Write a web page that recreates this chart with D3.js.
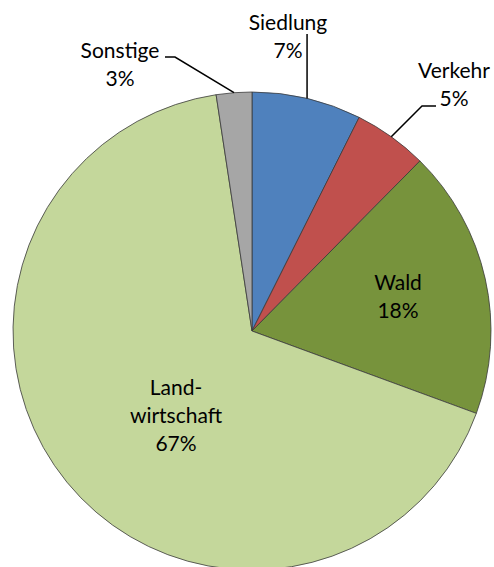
<!DOCTYPE html>
<html>
<head>
<meta charset="utf-8">
<script src="https://cdn.jsdelivr.net/npm/d3@7"></script>
<style>
  body { margin: 0; background: #fff; }
  text { font-family: Lato, "Open Sans", sans-serif; font-size: 21px; fill: #000; }
</style>
</head>
<body>
<div id="chart"></div>
<script>
// Flächennutzung, Anteile in Prozent (clockwise from 12 o'clock)
var categories = ["Siedlung", "Verkehr", "Wald", "Land-|wirtschaft", "Sonstige"];
var values = [7.4, 5.0, 18.2, 67.0, 2.4];
var percentLabels = ["7%", "5%", "18%", "67%", "3%"];
var colors = ["#4f81bd", "#c0504d", "#77933c", "#c4d79b", "#a6a6a6"];

var width = 494, height = 567;
var cx = 252, cy = 331, radius = 239;
var lineHeight = 28;

// label placement relative to pie centre (x = centre of text, y = first baseline)
var labelLayout = [
    { dx: 36, dy: -301, leader: "vertical" },
    { dx: 202, dy: -253, leader: "elbow", elbow: [170, -225], end: [184, -225] },
    { dx: 146, dy: -41, leader: null },
    { dx: -76, dy: 64, leader: null },
    { dx: -132, dy: -273, leader: "elbow", elbow: [-77, -274], end: [-87, -274] }
];

var svg = d3.select("#chart")
    .append("svg")
    .attr("width", width)
    .attr("height", height);

var g = svg.append("g")
    .attr("transform", "translate(" + cx + "," + cy + ")");

var pie = d3.pie().sort(null).value(function (d) { return d; });
var arcs = pie(values);

var arc = d3.arc().innerRadius(0).outerRadius(radius);
var rim = d3.arc().innerRadius(radius).outerRadius(radius);

// slices
g.selectAll("path.slice")
    .data(arcs)
    .enter()
    .append("path")
    .attr("class", "slice")
    .attr("d", arc)
    .attr("fill", function (d, i) { return colors[i]; })
    .attr("stroke", "#3a3a3a")
    .attr("stroke-width", 0.8);

// leader lines for the outside labels
arcs.forEach(function (d, i) {
    var lay = labelLayout[i];
    if (!lay.leader) return;
    var p = rim.centroid(d);
    var pts;
    if (lay.leader === "vertical") {
        pts = [p, [p[0], lay.dy + 4]];
    } else {
        pts = [p, lay.elbow, lay.end];
    }
    g.append("path")
        .attr("d", d3.line()(pts))
        .attr("fill", "none")
        .attr("stroke", "#000")
        .attr("stroke-width", 1.5);
});

// labels
arcs.forEach(function (d, i) {
    var lay = labelLayout[i];
    var lines = categories[i].split("|").concat([percentLabels[i]]);
    var t = g.append("text")
        .attr("text-anchor", "middle");
    lines.forEach(function (s, k) {
        t.append("tspan")
            .attr("x", lay.dx)
            .attr("y", lay.dy + k * lineHeight)
            .text(s);
    });
});
</script>
</body>
</html>
